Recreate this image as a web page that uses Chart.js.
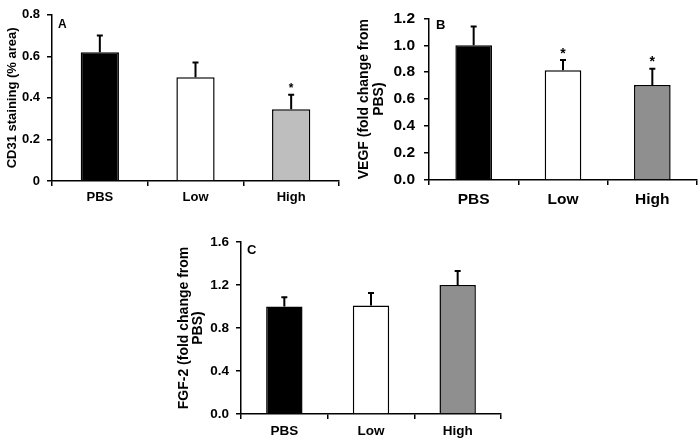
<!DOCTYPE html>
<html>
<head>
<meta charset="utf-8">
<script src="https://cdn.jsdelivr.net/npm/chart.js@4/dist/chart.umd.min.js"></script>
<style>
  html, body { margin: 0; padding: 0; background: #fff; }
  body { width: 700px; height: 443px; position: relative; overflow: hidden; }
  .panel { position: absolute; }
</style>
</head>
<body>
<div class="panel" style="left:0;top:0"><canvas id="chartA" width="350" height="220"></canvas></div>
<div class="panel" style="left:350px;top:0"><canvas id="chartB" width="350" height="220"></canvas></div>
<div class="panel" style="left:170px;top:220px"><canvas id="chartC" width="350" height="223"></canvas></div>
<script>
'use strict';

var categories = ['PBS', 'Low', 'High'];

// panel A: CD31 staining
var cd31Means = [0.62, 0.50, 0.345];
var cd31Errors = [0.08, 0.07, 0.07];
var cd31Stars = [false, false, true];
var cd31Ticks = ['0', '0.2', '0.4', '0.6', '0.8'];

// panel B: VEGF
var vegfMeans = [1.0, 0.815, 0.705];
var vegfErrors = [0.14, 0.075, 0.12];
var vegfStars = [false, true, true];
var vegfTicks = ['0.0', '0.2', '0.4', '0.6', '0.8', '1.0', '1.2'];

// panel C: FGF-2
var fgfMeans = [1.0, 1.01, 1.2];
var fgfErrors = [0.085, 0.115, 0.13];
var fgfStars = [false, false, false];
var fgfTicks = ['0.0', '0.4', '0.8', '1.2', '1.6'];

var FONT = 'Arial, "Liberation Sans", sans-serif';
Chart.defaults.color = '#000';
Chart.defaults.font.family = FONT;

// upper error bars, significance stars and the panel letter
var errorBarPlugin = {
  id: 'errorBars',
  afterDatasetsDraw: function(chart, args, opts) {
    var ctx = chart.ctx;
    var meta = chart.getDatasetMeta(0);
    var yScale = chart.scales.y;
    var means = chart.data.datasets[0].data;
    ctx.save();
    ctx.strokeStyle = '#000';
    ctx.lineWidth = 2;
    meta.data.forEach(function(bar, i) {
      var top = yScale.getPixelForValue(means[i] + opts.errors[i]);
      ctx.beginPath();
      ctx.moveTo(bar.x, bar.y);
      ctx.lineTo(bar.x, top);
      ctx.moveTo(bar.x - 3, top);
      ctx.lineTo(bar.x + 3, top);
      ctx.stroke();
      if (opts.stars[i]) {
        ctx.fillStyle = '#000';
        ctx.font = 'bold ' + opts.starSize + 'px ' + FONT;
        ctx.textAlign = 'center';
        ctx.textBaseline = 'alphabetic';
        ctx.fillText('*', bar.x, top - 2.5);
      }
    });
    var area = chart.chartArea;
    ctx.fillStyle = '#000';
    ctx.font = 'bold ' + opts.letterSize + 'px ' + FONT;
    ctx.textAlign = 'left';
    ctx.textBaseline = 'top';
    ctx.fillText(opts.letter, area.left + opts.letterDx, area.top + opts.letterDy);
    ctx.restore();
  }
};

function makePanel(id, cfg) {
  var fixedY = cfg.yWidth;
  var fixedX = cfg.xHeight;
  return new Chart(document.getElementById(id), {
    type: 'bar',
    data: {
      labels: categories,
      datasets: [{
        data: cfg.means,
        backgroundColor: cfg.colors,
        borderColor: '#000',
        borderWidth: 1.5,
        barPercentage: cfg.barPct,
        categoryPercentage: 1
      }]
    },
    options: {
      responsive: false,
      animation: false,
      layout: {padding: cfg.padding},
      plugins: {
        legend: {display: false},
        tooltip: {enabled: false},
        errorBars: {
          errors: cfg.errors,
          stars: cfg.stars,
          starSize: cfg.starSize,
          letter: cfg.letter,
          letterSize: cfg.letterSize,
          letterDx: cfg.letterDx,
          letterDy: cfg.letterDy
        }
      },
      scales: {
        x: {
          grid: {display: true, drawOnChartArea: false, drawTicks: true, tickLength: 5, color: '#000', lineWidth: 1.5},
          border: {color: '#000', width: 1.5},
          ticks: {font: {size: cfg.xFont, weight: 'bold'}, padding: cfg.xPad, color: '#000'},
          afterFit: function(s) { s.height = fixedX; }
        },
        y: {
          min: 0,
          max: cfg.max,
          grid: {display: true, drawOnChartArea: false, drawTicks: true, tickLength: 5, color: '#000', lineWidth: 1.5},
          border: {color: '#000', width: 1.5},
          ticks: {
            stepSize: cfg.step,
            font: {size: cfg.yFont, weight: 'bold'},
            padding: cfg.yPad,
            color: '#000',
            callback: function(v, i) { return cfg.tickLabels[i]; }
          },
          title: {
            display: true,
            text: cfg.title,
            font: {size: cfg.titleSize, weight: 'bold', lineHeight: cfg.titleLH},
            padding: {top: cfg.titlePad, bottom: 0},
            color: '#000'
          },
          afterFit: function(s) { s.width = fixedY; }
        }
      }
    },
    plugins: [errorBarPlugin]
  });
}

makePanel('chartA', {
  means: cd31Means, errors: cd31Errors, stars: cd31Stars, tickLabels: cd31Ticks,
  colors: ['#000000', '#ffffff', '#bebebe'],
  max: 0.8, step: 0.2,
  title: 'CD31 staining (% area)', titleSize: 13, titleLH: 1.2, titlePad: 5,
  yWidth: 52, xHeight: 39, padding: {top: 14, right: 11, left: 0, bottom: 0},
  barPct: 0.4, xFont: 13, yFont: 13, xPad: 4, yPad: 7,
  starSize: 12, letter: 'A', letterSize: 12, letterDx: 6, letterDy: 4
});

makePanel('chartB', {
  means: vegfMeans, errors: vegfErrors, stars: vegfStars, tickLabels: vegfTicks,
  colors: ['#000000', '#ffffff', '#8f8f8f'],
  max: 1.2, step: 0.2,
  title: ['VEGF (fold change from', 'PBS)'], titleSize: 14, titleLH: 1.1, titlePad: 6,
  yWidth: 79, xHeight: 40, padding: {top: 11, right: 3, left: 0, bottom: 0},
  barPct: 0.41, xFont: 15.5, yFont: 15.5, xPad: 5, yPad: 9,
  starSize: 14, letter: 'B', letterSize: 13, letterDx: 7, letterDy: 1
});

makePanel('chartC', {
  means: fgfMeans, errors: fgfErrors, stars: fgfStars, tickLabels: fgfTicks,
  colors: ['#000000', '#ffffff', '#8f8f8f'],
  max: 1.6, step: 0.4,
  title: ['FGF-2 (fold change from', 'PBS)'], titleSize: 14, titleLH: 1.0, titlePad: 7,
  yWidth: 71, xHeight: 29, padding: {top: 22, right: 19, left: 0, bottom: 0},
  barPct: 0.42, xFont: 13.5, yFont: 13.5, xPad: 4, yPad: 7,
  starSize: 12, letter: 'C', letterSize: 13, letterDx: 6, letterDy: 2
});
</script>
</body>
</html>
